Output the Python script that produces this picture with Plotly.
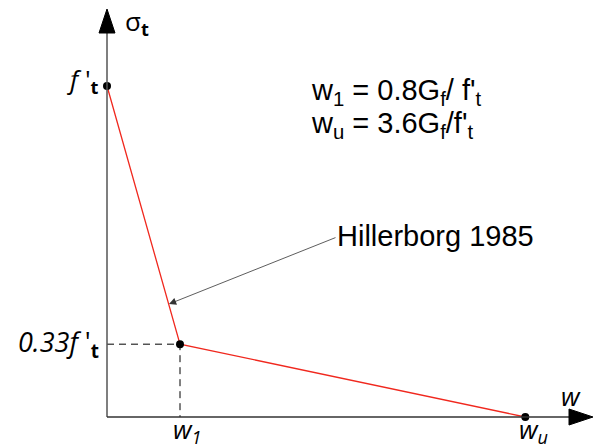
import plotly.graph_objects as go

# Schematic coordinates of the bilinear softening curve (units: w1 = 1, f't = 1)
w_pts = [0.0, 1.0, 5.73]
sigma_pts = [1.0, 0.22, 0.0]

W, H = 597, 448
px_x = 73.0   # pixels per w unit
px_y = 331.0  # pixels per sigma unit
x0 = -107 / px_x
x1 = (W - 107) / px_x
y0 = -(H - 417) / px_y
y1 = 417 / px_y

def X(p):
    return (p - 107) / px_x

def Y(p):
    return (417 - p) / px_y

fig = go.Figure()

# dashed guide lines
fig.add_trace(go.Scatter(x=[0, w_pts[1], w_pts[1]], y=[sigma_pts[1], sigma_pts[1], 0],
                         mode="lines", line=dict(color="black", width=1, dash="7px,5px"),
                         hoverinfo="skip", showlegend=False))
# curve
fig.add_trace(go.Scatter(x=w_pts, y=sigma_pts, mode="lines",
                         line=dict(color="#f0281e", width=1.3), showlegend=False))
# points
fig.add_trace(go.Scatter(x=w_pts, y=sigma_pts, mode="markers",
                         marker=dict(color="black", size=8), showlegend=False))

# axes lines
fig.add_shape(type="line", x0=0, y0=0, x1=0, y1=Y(30), line=dict(color="#555555", width=1.5))
fig.add_shape(type="line", x0=0, y0=0, x1=X(570), y1=0, line=dict(color="#333333", width=1.5))
# axis arrowheads (filled triangles)
hw = 8 / px_x
fig.add_shape(type="path", path=f"M {-hw} {Y(33)} L {hw} {Y(33)} L 0 {Y(9)} Z",
              fillcolor="black", line=dict(color="black", width=1))
hh = 8 / px_y
fig.add_shape(type="path", path=f"M {X(569)} {-hh} L {X(569)} {hh} L {X(593)} 0 Z",
              fillcolor="black", line=dict(color="black", width=1))

lab_font = dict(family="Open Sans", size=26, color="black")
ann = []
ann.append(dict(x=X(123), y=Y(22), text="σ<sub><b>t</b></sub>",
                xanchor="left", yanchor="middle", showarrow=False, font=lab_font))
ann.append(dict(x=X(101), y=Y(80), text="<i>f</i> '<sub><b>t</b></sub>",
                xanchor="right", yanchor="middle", showarrow=False, font=lab_font))
ann.append(dict(x=X(101), y=Y(343), text="<i>0.33f</i> '<sub><b>t</b></sub>",
                xanchor="right", yanchor="middle", showarrow=False,
                font=dict(family="Open Sans", size=27, color="black")))
ann.append(dict(x=X(187), y=Y(430), text="<i>w<sub>1</sub></i>",
                xanchor="center", yanchor="middle", showarrow=False, font=lab_font))
ann.append(dict(x=X(533), y=Y(430), text="<i>w<sub>u</sub></i>",
                xanchor="center", yanchor="middle", showarrow=False, font=lab_font))
ann.append(dict(x=X(571), y=Y(396), text="<i>w</i>",
                xanchor="center", yanchor="middle", showarrow=False, font=lab_font))

f2 = dict(family="Liberation Sans, Arial", size=29, color="black")
ann.append(dict(x=X(309), y=Y(92), text="w<sub>1</sub> = 0.8G<sub>f</sub>/ f'<sub>t</sub>",
                xanchor="left", yanchor="middle", showarrow=False, font=f2))
ann.append(dict(x=X(309), y=Y(125), text="w<sub>u</sub> = 3.6G<sub>f</sub>/f'<sub>t</sub>",
                xanchor="left", yanchor="middle", showarrow=False, font=f2))
# Hillerborg label with arrow
ann.append(dict(x=X(169), y=Y(304), ax=X(337), ay=Y(237),
                axref="x", ayref="y", xref="x", yref="y", text="", showarrow=True,
                arrowhead=2, arrowsize=1.8, arrowwidth=0.8, arrowcolor="#333333"))
ann.append(dict(x=X(335), y=Y(236), text="Hillerborg 1985",
                xanchor="left", yanchor="middle", showarrow=False,
                font=dict(family="Liberation Sans, Arial", size=29, color="black")))

fig.update_layout(
    width=W, height=H, margin=dict(l=0, r=0, t=0, b=0),
    paper_bgcolor="white", plot_bgcolor="white",
    xaxis=dict(range=[x0, x1], visible=False, fixedrange=True),
    yaxis=dict(range=[y0, y1], visible=False, fixedrange=True),
    annotations=ann, showlegend=False,
)
fig.write_html("out.html")
